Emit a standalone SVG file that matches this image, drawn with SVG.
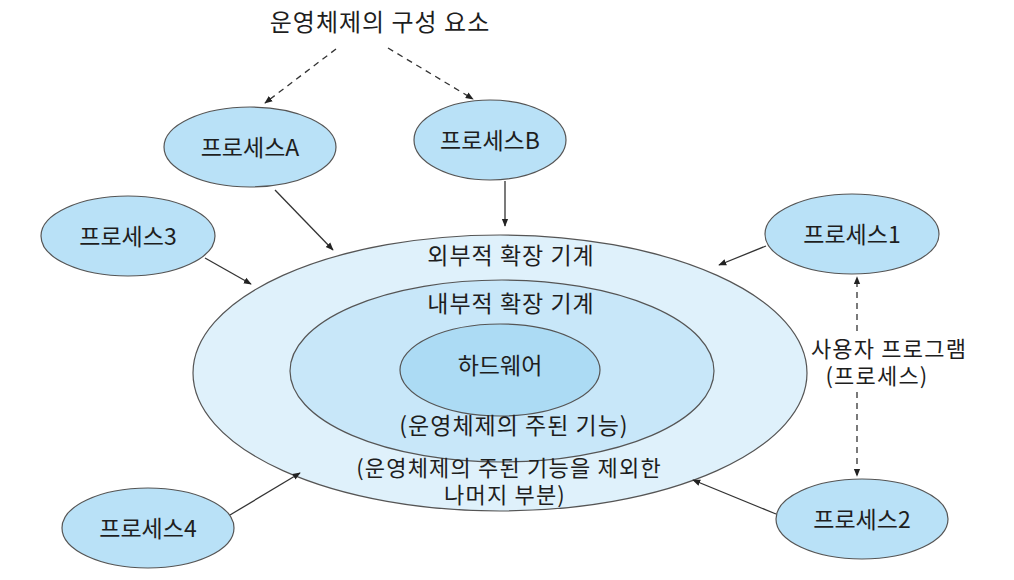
<svg xmlns="http://www.w3.org/2000/svg" width="1014" height="580" viewBox="0 0 1014 580">
<defs>
<style>
text{font-family:"Noto Sans CJK KR","Noto Sans",sans-serif;font-size:23px;fill:#1e1e1e;text-anchor:middle;}
.two{font-size:22px;letter-spacing:1.2px;}
.proc{fill:#b9e1f7;stroke:#555;stroke-width:1.2;}
.ln{stroke:#333;stroke-width:1.3;fill:none;}
.dash{stroke:#333;stroke-width:1.3;fill:none;stroke-dasharray:6 5;}
</style>
<marker id="ah" viewBox="0 0 10 10" refX="9" refY="5" markerWidth="8" markerHeight="8" orient="auto-start-reverse" markerUnits="userSpaceOnUse">
<path d="M0,1 L10,5 L0,9 z" fill="#222"/>
</marker>
</defs>
<rect width="1014" height="580" fill="#fff"/>
<g id="title"><text x="380" y="31" style="font-size:24px;letter-spacing:1px">운영체제의 구성 요소</text></g>
<g id="os">
<ellipse cx="500" cy="373" rx="307" ry="138" fill="#dff1fb" stroke="#555" stroke-width="1.2"/>
<ellipse cx="502" cy="371" rx="212" ry="91" fill="#c8e7f9" stroke="#555" stroke-width="1.2"/>
<ellipse cx="500" cy="370" rx="100" ry="46" fill="#acdbf4" stroke="#555" stroke-width="1.2"/>
<text x="511" y="264" style="letter-spacing:1px">외부적 확장 기계</text>
<text x="511" y="312" style="letter-spacing:1px">내부적 확장 기계</text>
<text x="500" y="374">하드웨어</text>
<text x="514" y="434" style="letter-spacing:1px">(운영체제의 주된 기능)</text>
<text class="two" x="509" y="476">(운영체제의 주된 기능을 제외한</text>
<text class="two" x="505" y="503">나머지 부분)</text>
</g>
<g id="procA"><ellipse class="proc" cx="250" cy="147" rx="86" ry="40"/><text x="250" y="156">프로세스A</text></g>
<g id="procB"><ellipse class="proc" cx="490" cy="140" rx="76" ry="40"/><text x="490" y="149">프로세스B</text></g>
<g id="proc3"><ellipse class="proc" cx="128" cy="236" rx="87" ry="40"/><text x="128" y="245">프로세스3</text></g>
<g id="proc1"><ellipse class="proc" cx="852" cy="234" rx="87" ry="40"/><text x="852" y="243">프로세스1</text></g>
<g id="proc4"><ellipse class="proc" cx="148" cy="528" rx="86" ry="40"/><text x="148" y="537">프로세스4</text></g>
<g id="proc2"><ellipse class="proc" cx="862" cy="519" rx="86" ry="40"/><text x="862" y="528">프로세스2</text></g>
<g id="userprog">
<text class="two" x="889" y="357">사용자 프로그램</text>
<text class="two" x="877" y="384">(프로세스)</text>
</g>
<g id="connectors">
<line class="dash" x1="336" y1="49" x2="265" y2="103" marker-end="url(#ah)"/>
<line class="dash" x1="388" y1="48" x2="473" y2="99" marker-end="url(#ah)"/>
<line class="ln" x1="275" y1="190" x2="333" y2="250" marker-end="url(#ah)"/>
<line class="ln" x1="505" y1="181" x2="505" y2="226" marker-end="url(#ah)"/>
<line class="ln" x1="205" y1="258" x2="251" y2="284" marker-end="url(#ah)"/>
<line class="ln" x1="766" y1="246" x2="719" y2="265" marker-end="url(#ah)"/>
<line class="ln" x1="230" y1="515" x2="300" y2="473" marker-end="url(#ah)"/>
<line class="ln" x1="776" y1="514" x2="693" y2="480" marker-end="url(#ah)"/>
<line class="dash" x1="857" y1="331" x2="857" y2="277" marker-end="url(#ah)"/>
<line class="dash" x1="857" y1="392" x2="857" y2="476" marker-end="url(#ah)"/>
</g>
</svg>
